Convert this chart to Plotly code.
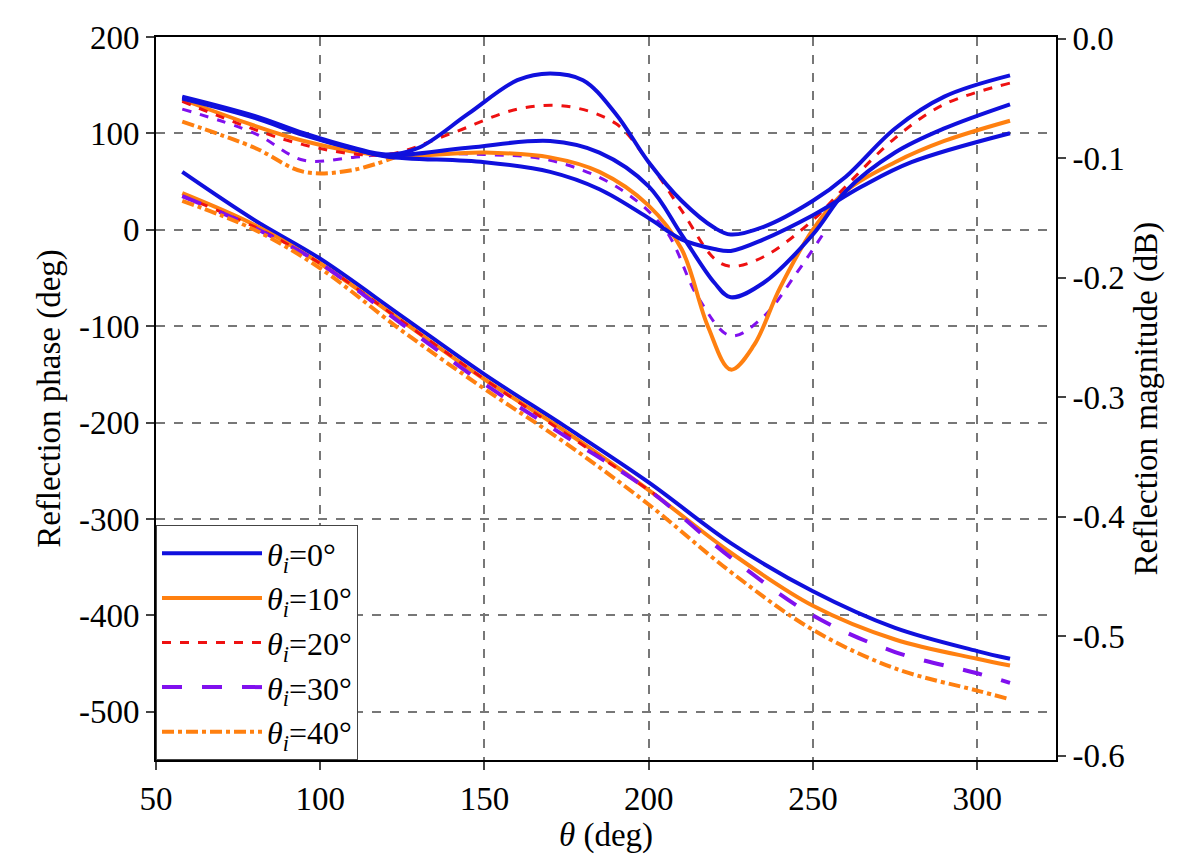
import plotly.graph_objects as go

# ---- phase data (deg) ----
ph_x0 = [58, 80, 100, 125, 150, 175, 200, 225, 250, 275, 300, 310]
ph_y0 = [60, 10, -30, -90, -150, -205, -262, -325, -375, -413, -437, -445]
ph_x10 = [58, 80, 100, 125, 150, 175, 200, 225, 250, 275, 300, 310]
ph_y10 = [38, 5, -35, -95, -155, -210, -270, -335, -390, -425, -445, -452]
ph_x20 = [58, 80, 100, 125, 150, 175, 200, 205]
ph_y20 = [35, 3, -35, -95, -155, -212, -270, -282]
ph_x30 = [58, 80, 100, 125, 150, 175, 200, 225, 250, 275, 300, 310]
ph_y30 = [35, 2, -35, -98, -160, -215, -270, -340, -400, -438, -460, -470]
ph_x40 = [58, 80, 100, 125, 150, 175, 200, 225, 250, 275, 300, 310]
ph_y40 = [30, 0, -40, -105, -165, -222, -285, -355, -415, -455, -478, -487]

# ---- magnitude data (read in left-axis units, converted to dB below) ----
mA_x = [58, 80, 95, 110, 120, 130, 145, 160, 170, 180, 190, 200, 210, 220, 225, 235, 250, 260, 275, 290, 310]
mA_l = [138, 118, 100, 85, 78, 85, 120, 155, 162, 155, 120, 70, 30, 2, -5, 3, 30, 55, 105, 138, 160]
mB_x = [58, 80, 95, 110, 120, 145, 170, 185, 200, 210, 220, 225, 235, 250, 260, 275, 290, 310]
mB_l = [136, 116, 98, 84, 77, 85, 92, 80, 45, -5, -55, -70, -55, -5, 40, 80, 105, 130]
mC_x = [58, 80, 95, 110, 120, 150, 170, 185, 200, 210, 220, 225, 235, 250, 265, 280, 310]
mC_l = [137, 117, 99, 84, 76, 70, 60, 42, 12, -10, -20, -22, -10, 15, 45, 70, 100]
m10_x = [58, 95, 120, 150, 170, 185, 200, 210, 218, 225, 232, 240, 250, 260, 275, 290, 310]
m10_l = [135, 92, 77, 80, 75, 60, 25, -20, -100, -145, -120, -60, 0, 40, 70, 92, 113]
m20_x = [58, 95, 120, 140, 160, 175, 190, 200, 210, 220, 225, 235, 250, 260, 275, 290, 310]
m20_l = [133, 88, 78, 100, 125, 128, 110, 70, 20, -30, -38, -28, 10, 45, 95, 130, 152]
m30_x = [58, 80, 95, 110, 120, 150, 170, 190, 205, 215, 225, 235, 245, 253]
m30_l = [125, 100, 72, 75, 78, 78, 72, 45, 0, -70, -110, -90, -45, -5]
m40_x = [58, 80, 95, 110, 125]
m40_l = [112, 85, 60, 62, 78]

# ---- tick labels ----
y_ticks = [200, 100, 0, -100, -200, -300, -400, -500]
y_labels = ["200", "100", "0", "-100", "-200", "-300", "-400", "-500"]
y2_ticks = [0.0, -0.1, -0.2, -0.3, -0.4, -0.5, -0.6]
y2_labels = ["0.0", "-0.1", "-0.2", "-0.3", "-0.4", "-0.5", "-0.6"]

def to_db(vals):
    return [-((200 - v) * 0.9686 - 2) / 1200 for v in vals]

BLUE, ORANGE, RED, PURPLE = "#1010dd", "#ff8010", "#ee1111", "#8010ee"
fig = go.Figure()

def add(x, y, color, dash, width, name=None, axis="y", show=False):
    fig.add_trace(go.Scatter(x=x, y=y, mode="lines", yaxis=axis, name=name,
                             showlegend=show,
                             line=dict(color=color, dash=dash, width=width, shape="spline")))

th = "<i>θ</i><sub><i>i</i></sub>"
add(ph_x0, ph_y0, BLUE, "solid", 4, th + "=0°", show=True)
add(ph_x10, ph_y10, ORANGE, "solid", 4, th + "=10°", show=True)
add(ph_x20, ph_y20, RED, "dash", 3, th + "=20°", show=True)
add(ph_x30, ph_y30, PURPLE, "longdash", 4, th + "=30°", show=True)
add(ph_x40, ph_y40, ORANGE, "dashdot", 4, th + "=40°", show=True)

add(m40_x, to_db(m40_l), ORANGE, "dashdot", 4, axis="y2")
add(m30_x, to_db(m30_l), PURPLE, "dash", 3, axis="y2")
add(m10_x, to_db(m10_l), ORANGE, "solid", 4, axis="y2")
add(m20_x, to_db(m20_l), RED, "dash", 3, axis="y2")
add(mC_x, to_db(mC_l), BLUE, "solid", 4, axis="y2")
add(mB_x, to_db(mB_l), BLUE, "solid", 4, axis="y2")
add(mA_x, to_db(mA_l), BLUE, "solid", 4, axis="y2")

font = dict(family="Liberation Serif", size=33, color="black")
axis_common = dict(showline=True, linecolor="black", linewidth=2,
                   ticks="outside", ticklen=8, tickwidth=2, tickfont=font,
                   zeroline=False)
fig.update_layout(
    width=1184, height=864, plot_bgcolor="white", paper_bgcolor="white",
    margin=dict(l=148, r=136, t=26, b=112),
    font=font,
    xaxis=dict(range=[50, 324], dtick=50, showgrid=True, gridcolor="#777",
               griddash="dash", gridwidth=1.5, mirror=True,
               title=dict(text="<i>θ</i> (deg)", font=font, standoff=4),
               **axis_common),
    yaxis=dict(range=[-550, 200], tickvals=y_ticks, ticktext=y_labels,
               showgrid=True, gridcolor="#777", griddash="dash", gridwidth=1.5,
               title=dict(text="Reflection phase (deg)", font=font, standoff=8),
               **axis_common),
    yaxis2=dict(range=[-0.6035, 0.0015], tickvals=y2_ticks, ticktext=y2_labels,
                overlaying="y", side="right", showgrid=False,
                title=dict(text="Reflection magnitude (dB)", font=font, standoff=10),
                **axis_common),
    legend=dict(x=0, y=0, xanchor="left", yanchor="bottom", bgcolor="white",
                bordercolor="#444", borderwidth=1,
                font=dict(family="Liberation Serif", size=32),
                itemwidth=100, tracegroupgap=2),
)
fig.write_html("out.html")
